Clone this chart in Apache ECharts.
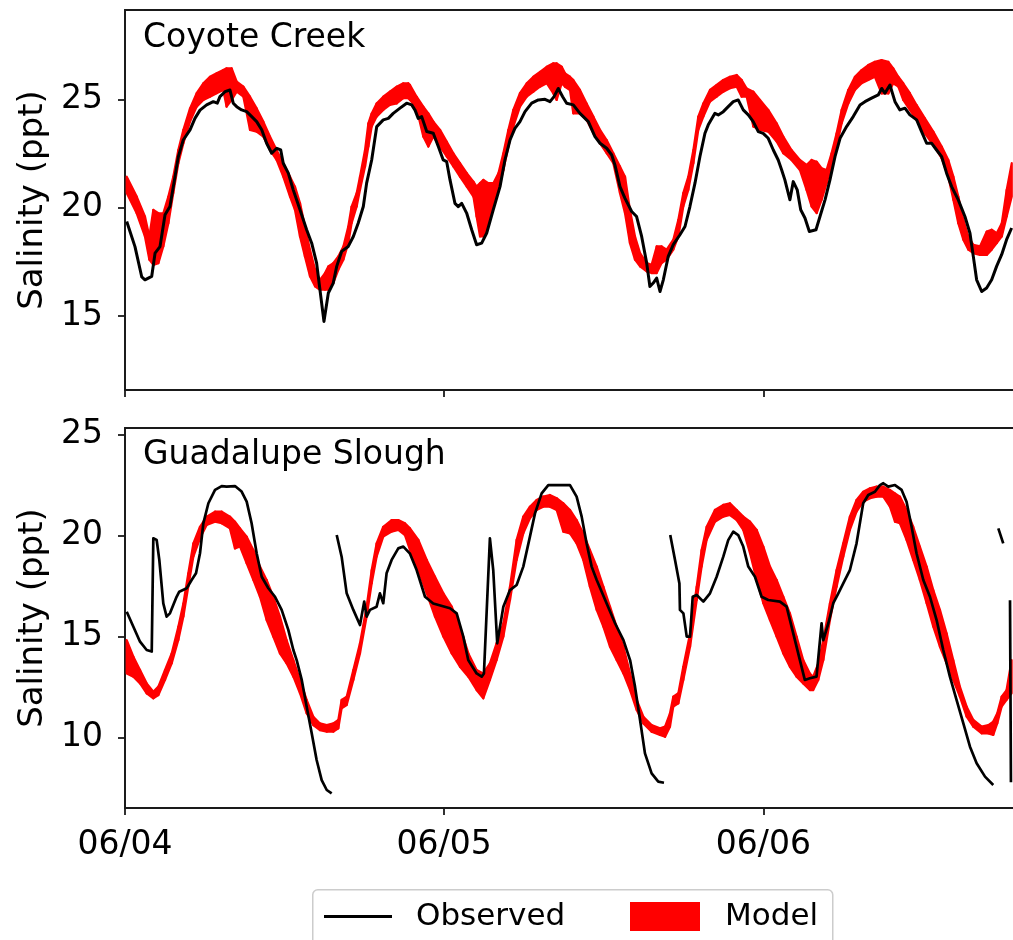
<!DOCTYPE html>
<html>
<head>
<meta charset="utf-8">
<script src="https://cdn.jsdelivr.net/npm/echarts@6/dist/echarts.min.js"></script>
<style>
html,body{margin:0;padding:0;background:#fff;}
#chart{width:1013px;height:940px;}
</style>
</head>
<body>
<div id="chart"></div>
<script>
// ---------- tick labels ----------
const xTickHours = [0, 24, 48];
const xTickLabels = ['06/04', '06/05', '06/06'];
const yTicksTop = [15, 20, 25];
const yTicksBottom = [10, 15, 20, 25];
const panelNames = ['Coyote Creek', 'Guadalupe Slough'];
const yAxisTitle = 'Salinity (ppt)';

// ---------- Coyote Creek: observed (hours since 06/04 00:00, ppt) ----------
const obsTopT = [0.13,0.25,0.75,1.26,1.50,2.01,2.26,2.63,3.01,3.38,
3.76,4.01,4.38,4.89,5.26,5.64,6.14,6.64,6.94,7.14,
7.52,7.89,8.14,8.40,8.77,9.15,9.53,9.90,10.28,10.65,
11.03,11.41,11.71,11.90,12.28,12.65,13.16,13.66,14.04,14.41,
14.66,14.96,15.29,15.66,15.92,16.29,16.79,17.17,17.54,17.92,
18.17,18.55,18.93,19.42,19.80,20.17,20.68,21.18,21.56,21.81,
22.05,22.31,22.69,23.18,23.56,23.93,24.19,24.44,24.81,25.06,
25.32,25.69,26.07,26.44,26.82,27.20,27.69,28.20,28.57,28.95,
29.32,29.70,30.08,30.58,31.08,31.58,31.96,32.26,32.58,32.91,
33.21,33.71,34.21,34.46,34.84,35.34,35.72,36.22,36.60,36.84,
37.22,37.59,38.10,38.47,38.85,39.23,39.47,39.72,39.98,40.23,
40.48,40.85,41.23,41.73,42.11,42.48,42.86,43.23,43.61,43.86,
44.36,44.61,44.99,45.36,45.74,46.11,46.49,46.87,47.24,47.62,
47.99,48.37,48.75,49.12,49.38,49.62,50.00,50.25,50.55,50.81,
51.13,51.46,51.96,52.26,52.64,53.01,53.39,53.77,54.26,54.76,
55.27,55.64,56.14,56.64,56.90,57.14,57.52,57.90,58.27,58.65,
59.02,59.53,59.90,60.28,60.66,61.03,61.41,61.78,62.16,62.66,
63.16,63.54,63.79,64.04,64.42,64.79,65.17,65.54,65.92,66.29,
66.67];
const obsTopV = [19.36,19.3,18.2,16.8,16.67,16.83,17.9,18.2,19.67,20.05,
21.43,22.35,23.12,23.59,24.12,24.5,24.74,24.89,24.82,25.12,
25.35,25.43,24.82,24.66,24.51,24.43,24.2,23.97,23.59,22.97,
22.51,22.74,22.66,22.05,21.59,20.82,19.9,18.98,18.36,17.44,
16.21,14.75,16.06,16.52,17.29,17.98,18.21,18.67,19.29,20.05,
21.13,22.2,23.74,24.05,24.12,24.35,24.59,24.82,24.74,24.5,
24.12,24.2,23.51,23.43,22.82,22.2,22.12,21.28,20.2,20.05,
20.2,19.75,18.98,18.29,18.36,18.83,19.9,20.97,22.2,23.12,
23.66,23.97,24.43,24.82,24.97,25.0,24.89,25.12,25.5,25.12,
24.82,24.74,24.35,24.2,23.97,23.28,22.97,22.74,22.43,21.97,
20.97,20.44,19.82,19.59,18.67,17.44,16.36,16.52,16.75,16.13,
16.67,17.75,18.29,18.75,19.13,20.05,21.13,22.35,23.43,23.82,
24.35,24.28,24.43,24.66,24.89,24.97,24.51,24.28,23.97,23.51,
23.43,23.2,22.66,22.2,21.74,21.28,20.36,21.2,20.82,19.9,
19.52,18.9,18.98,19.59,20.36,21.28,22.35,23.2,23.74,24.2,
24.74,24.89,25.05,25.2,25.5,25.28,25.66,24.89,24.51,24.59,
24.28,24.05,23.51,22.97,22.97,22.66,22.35,21.59,20.97,20.36,
19.59,18.82,17.75,16.67,16.13,16.29,16.67,17.29,17.83,18.52,
19.06];

// ---------- Coyote Creek: model envelope ----------
const modTopT = [0.13,0.88,1.50,1.83,2.13,2.51,2.88,3.26,3.63,4.01,
4.39,4.89,5.39,5.89,6.39,6.89,7.39,7.64,8.02,8.40,
8.90,9.40,9.90,10.40,10.90,11.40,11.90,12.41,12.78,13.16,
13.53,13.91,14.29,14.66,15.04,15.29,15.66,16.04,16.42,16.79,
17.04,17.42,17.67,18.05,18.30,18.55,18.92,19.42,19.92,20.43,
20.93,21.30,
21.43,21.93,22.43,22.81,23.19,23.69,24.19,24.69,25.19,25.70,
26.20,26.44,26.70,26.95,27.32,27.70,28.08,28.45,28.83,29.20,
29.70,30.21,30.71,31.21,31.71,32.21,32.46,32.84,33.09,33.46,
33.71,34.21,34.71,35.22,35.72,36.22,36.72,37.22,37.60,37.97,
38.35,38.73,39.23,39.60,39.98,40.35,40.73,41.23,41.61,41.98,
42.36,42.74,43.11,43.49,
43.99,44.49,44.99,45.49,46.00,46.37,46.75,47.25,47.75,48.37,
49.00,49.50,50.12,50.75,51.25,51.63,52.01,52.38,52.76,53.13,
53.51,53.89,54.39,54.89,55.39,55.89,56.39,56.89,57.40,57.77,
58.15,58.52,59.02,59.52,60.15,60.78,61.41,61.91,62.29,62.66,
63.04,63.42,63.79,64.29,64.80,65.17,65.55,65.93,66.30,66.68];
const modTopHi = [21.43,20.51,19.59,18.67,19.9,19.74,19.74,20.51,21.43,22.66,
23.59,24.58,25.28,25.74,26.04,26.2,26.35,26.43,26.43,25.81,
25.58,25.12,24.58,23.97,23.28,22.66,22.05,21.43,20.97,20.21,
19.13,18.06,17.14,16.67,16.98,17.29,17.44,17.75,18.21,19.13,
20.05,20.67,21.43,22.66,23.89,24.35,24.81,25.12,25.35,25.58,
25.74,25.74,
25.66,25.12,24.66,24.35,23.97,23.59,23.05,22.51,22.05,21.59,
21.2,20.97,21.13,21.28,21.13,21.13,21.59,22.51,23.59,24.51,
25.28,25.74,26.04,26.27,26.5,26.66,26.66,26.5,26.2,26.04,
25.89,25.43,24.81,24.2,23.59,23.12,22.51,21.9,21.43,19.9,
18.67,17.9,17.44,17.36,18.21,18.21,18.06,18.52,19.44,20.67,
21.43,22.66,24.2,24.81,
25.43,25.66,25.89,26.04,26.12,25.89,25.5,25.35,24.97,24.51,
23.89,23.28,22.66,22.2,21.97,22.2,22.12,21.82,21.74,22.51,
23.43,24.51,25.43,26.04,26.35,26.58,26.73,26.81,26.73,26.43,
26.04,25.74,25.28,24.74,24.12,23.51,22.82,22.2,21.43,20.51,
19.44,18.67,18.29,18.21,18.9,18.98,18.82,19.28,20.82,22.05];
const modTopLo = [20.67,19.74,18.67,17.6,17.36,17.44,18.21,19.28,20.67,22.05,
22.97,23.97,24.66,24.97,25.12,25.28,25.43,24.66,24.97,25.35,
25.12,23.59,23.51,23.28,22.66,22.2,21.43,20.51,19.9,18.67,
17.75,16.83,16.37,16.21,16.21,16.21,16.52,17.13,17.6,18.36,
19.28,20.05,20.82,21.9,22.82,23.74,24.2,24.51,24.74,24.81,
25.05,25.05,
24.97,24.58,23.28,22.82,23.28,22.82,22.36,21.9,21.43,20.97,
20.51,19.59,18.67,18.67,19.28,20.21,20.82,21.74,22.82,23.74,
24.66,25.12,25.35,25.58,25.74,25.27,24.97,25.74,25.58,25.43,
24.35,24.35,24.05,23.43,22.97,22.51,22.05,20.67,19.74,18.36,
17.6,17.29,17.06,16.98,16.98,17.44,17.6,18.06,18.67,20.05,
20.82,22.05,23.59,24.2,
24.89,25.12,25.35,25.51,25.58,25.12,25.12,23.74,23.59,23.51,
23.05,22.51,22.2,21.74,20.82,20.05,19.75,20.36,21.13,21.9,
22.82,23.89,24.81,25.43,25.74,25.89,26.04,25.27,25.27,25.74,
25.58,24.97,24.51,24.05,23.43,22.89,22.28,21.43,20.36,19.28,
18.52,18.06,17.9,17.82,17.82,18.06,18.36,18.67,19.59,20.51];

// ---------- Guadalupe Slough: observed (null = gap in record) ----------
const obsBotT = [0.13,0.63,1.13,1.63,2.01,2.13,2.38,2.58,2.88,3.13,
3.38,3.63,3.88,4.08,4.64,5.01,5.34,5.64,5.89,6.27,
6.77,7.27,7.64,8.27,8.77,9.15,9.52,9.90,10.28,10.78,
11.28,11.78,12.28,12.66,12.91,13.29,13.66,14.04,14.41,14.79,
15.17,15.54,15.75,
15.92,16.29,16.67,17.17,17.67,17.99,18.17,18.42,18.92,19.17,
19.42,19.67,20.05,20.55,20.93,21.43,21.93,22.56,23.18,24.44,
24.94,25.44,25.81,26.44,26.82,26.99,27.44,27.69,27.99,28.45,
28.95,29.45,29.95,30.45,30.83,31.33,31.83,32.58,33.46,33.96,
34.34,34.71,35.09,35.47,36.22,36.85,37.48,37.98,38.35,38.73,
39.10,39.60,40.10,40.53,40.75,
41.00,41.36,41.69,41.73,41.99,42.24,42.49,42.69,42.99,43.49,
43.99,44.49,44.99,45.36,45.74,46.11,46.49,46.87,47.37,47.87,
48.37,49.25,49.75,50.25,50.75,51.12,51.50,52.00,52.38,52.51,
52.89,53.26,53.64,54.01,54.51,55.01,55.51,55.89,56.39,56.77,
57.02,57.39,57.90,58.40,58.77,59.15,59.52,60.03,60.53,61.03,
61.53,62.03,62.53,63.04,63.54,64.04,64.67,65.29,65.50,
65.67,66.04,66.30,
66.55,66.62];
const obsBotV = [16.23,15.49,14.75,14.34,14.26,19.86,19.78,18.79,16.64,15.99,
16.15,16.56,16.97,17.22,17.39,17.8,18.13,19.12,20.6,21.59,
22.25,22.44,22.41,22.44,22.17,21.67,20.6,19.12,17.96,17.39,
16.97,16.32,15.33,14.34,13.84,12.86,11.54,10.22,8.9,7.91,
7.42,7.25,null,
20.02,18.95,17.14,16.32,15.57,16.73,15.99,16.32,16.48,17.14,
16.65,18.13,18.79,19.36,19.45,19.1,18.29,16.97,16.64,16.4,
16.15,15.0,13.84,13.18,13.02,13.18,19.86,18.29,14.67,16.48,
17.3,17.55,18.46,19.94,21.09,22.08,22.49,22.49,22.49,21.92,
20.93,19.61,18.46,17.8,16.64,15.66,14.83,13.84,12.53,10.88,
9.23,8.24,7.83,7.78,null,
20.02,18.79,17.63,16.32,16.15,15.0,15.0,16.97,17.06,16.73,
17.14,17.96,18.95,19.77,20.19,20.02,19.45,18.46,17.96,16.97,
16.81,16.73,16.48,15.16,13.84,12.86,12.94,13.02,15.66,14.83,
15.66,16.65,17.14,17.63,18.29,19.61,21.59,22.0,22.16,22.49,
22.58,22.41,22.49,22.25,21.67,20.43,19.12,17.8,16.97,15.82,
14.34,13.02,11.87,10.71,9.56,8.74,8.08,7.67,null,
20.35,19.61,null,
16.8,7.8];

// ---------- Guadalupe Slough: model envelope ----------
const modBotT = [0.13,0.63,1.13,1.63,2.13,2.51,3.01,3.51,4.01,4.39,
4.76,5.14,5.64,6.14,6.77,7.27,7.89,8.27,8.65,9.15,
9.65,10.15,10.65,11.15,11.65,12.15,12.66,13.16,13.66,14.16,
14.66,15.17,15.67,16.04,16.29,16.67,17.17,17.67,18.17,18.55,
18.92,19.42,20.05,20.55,21.05,
21.43,22.06,22.69,23.31,23.94,24.57,25.19,25.82,26.44,26.94,
27.44,27.94,28.45,28.95,29.45,29.95,30.45,30.95,31.45,31.95,
32.46,32.96,33.46,33.96,34.46,34.96,35.47,35.97,36.47,36.97,
37.48,37.98,38.48,38.98,39.60,40.23,40.61,40.98,41.23,41.61,
41.98,42.49,42.99,43.36,43.74,
44.36,44.99,45.49,46.00,46.49,47.00,47.50,48.00,48.50,49.00,
49.50,50.00,50.50,51.00,51.50,51.75,52.13,52.51,53.01,53.51,
54.01,54.51,55.01,55.51,56.02,56.52,57.02,57.52,57.90,58.27,
58.77,59.27,59.77,60.28,60.78,61.28,61.78,62.28,62.78,63.29,
63.79,64.42,64.92,65.29,65.59,65.92,66.29,66.67];
const modBotHi = [14.83,14.01,13.35,12.69,12.28,12.53,13.35,14.17,15.49,16.64,
18.13,19.61,20.43,20.93,21.18,21.18,20.93,20.68,20.35,19.94,
19.28,18.46,17.8,16.97,15.99,14.83,13.84,12.86,11.87,11.04,
10.71,10.63,10.71,10.88,11.87,12.03,13.35,14.67,16.48,18.29,
19.61,20.43,20.76,20.76,20.6,
20.35,19.78,18.79,17.96,17.14,16.48,15.49,14.17,13.35,13.18,
13.68,14.67,15.66,17.47,19.78,20.93,21.42,21.75,21.92,22.0,
21.84,21.59,21.26,20.76,20.1,19.28,18.46,17.47,16.48,15.49,
14.5,13.18,11.87,11.04,10.63,10.47,10.55,11.21,12.03,12.2,
13.51,15.16,17.47,19.28,20.43,
21.26,21.51,21.59,21.26,20.93,20.68,20.27,19.45,18.46,17.8,
16.97,16.15,15.0,13.84,13.18,13.02,13.68,14.83,16.65,18.29,
19.61,20.93,21.75,22.16,22.33,22.41,22.41,22.25,22.08,21.92,
21.26,20.43,19.45,18.46,17.3,16.32,15.16,13.84,12.53,11.54,
10.88,10.55,10.63,10.8,11.21,12.03,12.36,13.84];
const modBotLo = [13.18,13.02,12.69,12.2,11.95,12.11,12.86,13.68,14.83,15.99,
17.47,18.95,19.86,20.52,20.68,20.6,20.35,19.36,19.45,18.62,
17.8,16.97,15.82,15.0,14.17,13.68,13.02,12.2,11.21,10.63,
10.38,10.3,10.3,10.47,11.46,11.62,12.86,14.17,15.99,17.63,
18.95,19.94,20.19,20.27,20.02,
19.28,18.29,17.14,15.99,15.0,14.17,13.51,13.02,12.36,11.95,
12.86,13.84,15.0,16.81,18.79,20.1,20.85,21.26,21.42,21.42,
21.26,20.19,20.1,19.61,18.79,17.47,16.32,15.49,14.5,13.84,
13.18,12.36,11.37,10.71,10.3,10.14,10.05,10.55,11.54,11.7,
12.86,14.5,16.81,18.46,19.78,
20.68,20.93,21.01,20.76,20.27,19.12,17.8,16.65,15.82,15.0,
14.17,13.51,13.02,12.69,12.36,12.36,12.86,13.84,15.82,17.47,
18.95,20.27,21.18,21.67,21.84,21.92,21.92,21.42,20.68,20.6,
19.78,18.79,17.8,16.65,15.49,14.5,13.68,12.86,12.03,11.04,
10.55,10.22,10.22,10.14,10.71,11.54,11.87,12.2];

// ---------- build helpers ----------
function pairs(t, v) {
  return t.map((x, i) => [x, v[i] == null ? '-' : v[i]]);
}
function bandSegs(t, lo, hi) {
  const out = [];
  for (let i = 0; i < t.length - 1; i++) {
    out.push([t[i], lo[i], hi[i], t[i + 1], lo[i + 1], hi[i + 1]]);
  }
  return out;
}
function renderBand(params, api) {
  const a = api.coord([api.value(0), api.value(1)]);
  const b = api.coord([api.value(3), api.value(4)]);
  const c = api.coord([api.value(3), api.value(5)]);
  const d = api.coord([api.value(0), api.value(2)]);
  return {
    type: 'polygon',
    shape: { points: [a, b, c, d] },
    style: { fill: '#ff0000', stroke: '#ff0000', lineWidth: 2.2, lineJoin: 'round' }
  };
}

const FONT = 'DejaVu Sans';
const AX = '#1a1a1a';

function xAxisCfg(gridIndex, showLabels) {
  return {
    type: 'value', gridIndex: gridIndex, min: 0, max: 67,
    axisLine: { show: true, onZero: false, lineStyle: { color: AX, width: 1.8 } },
    axisTick: { show: true, length: 7, lineStyle: { color: AX, width: 1.8 }, customValues: xTickHours },
    axisLabel: {
      show: showLabels, customValues: xTickHours, margin: 21,
      fontFamily: FONT, fontSize: 33, color: '#000',
      formatter: v => { const k = xTickHours.indexOf(v); return k >= 0 ? xTickLabels[k] : ''; }
    },
    splitLine: { show: false }
  };
}
function yAxisCfg(gridIndex, min, max, ticks) {
  return {
    type: 'value', gridIndex: gridIndex, min: min, max: max,
    name: yAxisTitle, nameLocation: 'middle', nameGap: 74,
    nameTextStyle: { fontFamily: FONT, fontSize: 34, color: '#000' },
    axisLine: { show: true, onZero: false, lineStyle: { color: AX, width: 1.8 } },
    axisTick: { show: true, length: 7, lineStyle: { color: AX, width: 1.8 }, customValues: ticks },
    axisLabel: { customValues: ticks, margin: 22, fontFamily: FONT, fontSize: 33, color: '#000' },
    splitLine: { show: false }
  };
}

const chart = echarts.init(document.getElementById('chart'), null, { renderer: 'canvas' });
chart.setOption({
  animation: false,
  backgroundColor: '#ffffff',
  grid: [
    { left: 125, top: 10, right: -3, height: 380, show: true, borderColor: AX, borderWidth: 1.8, backgroundColor: 'transparent', outerBoundsMode: 'none' },
    { left: 125, top: 428, right: -3, height: 380, show: true, borderColor: AX, borderWidth: 1.8, backgroundColor: 'transparent', outerBoundsMode: 'none' }
  ],
  xAxis: [xAxisCfg(0, false), xAxisCfg(1, true)],
  yAxis: [yAxisCfg(0, 11.585, 29.12, yTicksTop), yAxisCfg(1, 6.53, 25.31, yTicksBottom)],
  legend: [
    {
      data: ['Observed'], left: 324, top: 901, padding: 0, selectedMode: false,
      icon: 'rect', itemWidth: 68, itemHeight: 3,
      textStyle: { fontFamily: FONT, fontSize: 31, color: '#000', padding: [0, 0, 0, 19] }
    },
    {
      data: ['Model'], left: 630, top: 901, padding: 0, selectedMode: false,
      icon: 'rect', itemWidth: 70, itemHeight: 29,
      textStyle: { fontFamily: FONT, fontSize: 31, color: '#000', padding: [0, 0, 0, 20] }
    }
  ],
  graphic: [
    { type: 'rect', left: 312, top: 889, z: 0, shape: { width: 520, height: 70, r: 5 },
      style: { fill: 'rgba(255,255,255,0.8)', stroke: '#cccccc', lineWidth: 1.5 } },
    { type: 'text', left: 143, top: 22, z: 10, style: { text: panelNames[0], font: '33px "DejaVu Sans"', fill: '#000' } },
    { type: 'text', left: 143, top: 439, z: 10, style: { text: panelNames[1], font: '33px "DejaVu Sans"', fill: '#000' } }
  ],
  series: [
    { name: 'Model', type: 'custom', xAxisIndex: 0, yAxisIndex: 0, silent: true, z: 2,
      itemStyle: { color: '#ff0000' }, renderItem: renderBand,
      encode: { x: [0, 3], y: [1, 2, 4, 5] }, data: bandSegs(modTopT, modTopLo, modTopHi) },
    { name: 'Observed', type: 'line', xAxisIndex: 0, yAxisIndex: 0, silent: true, z: 3,
      showSymbol: false, symbol: 'none', connectNulls: false,
      itemStyle: { color: '#000' }, lineStyle: { color: '#000', width: 3.0, join: 'round' },
      data: pairs(obsTopT, obsTopV) },
    { name: 'Model', type: 'custom', xAxisIndex: 1, yAxisIndex: 1, silent: true, z: 2,
      itemStyle: { color: '#ff0000' }, renderItem: renderBand,
      encode: { x: [0, 3], y: [1, 2, 4, 5] }, data: bandSegs(modBotT, modBotLo, modBotHi) },
    { name: 'Observed', type: 'line', xAxisIndex: 1, yAxisIndex: 1, silent: true, z: 3,
      showSymbol: false, symbol: 'none', connectNulls: false,
      itemStyle: { color: '#000' }, lineStyle: { color: '#000', width: 2.7, join: 'round' },
      data: pairs(obsBotT, obsBotV) }
  ]
});
</script>
</body>
</html>
